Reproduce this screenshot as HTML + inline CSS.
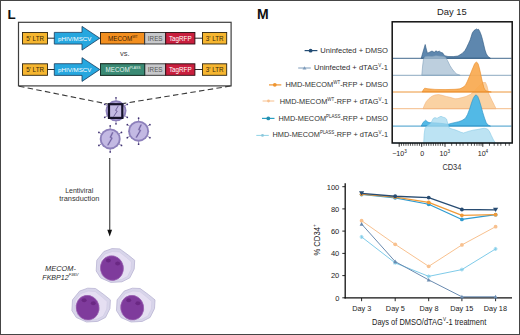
<!DOCTYPE html>
<html><head><meta charset="utf-8">
<style>
html,body{margin:0;padding:0;background:#fff;}
svg{display:block;font-family:"Liberation Sans",sans-serif;}
</style></head><body>
<svg width="520" height="335" viewBox="0 0 520 335">
<defs>
<filter id="bl" x="-50%" y="-50%" width="200%" height="200%"><feGaussianBlur stdDeviation="0.5"/></filter>
<g id="virus">
  <g stroke="#6a5a9a" stroke-width="0.7">
    <line x1="0" y1="-10" x2="0" y2="-12.6"/><line x1="0" y1="10" x2="0" y2="12.6"/>
    <line x1="8.7" y1="-5" x2="10.9" y2="-6.3"/><line x1="-8.7" y1="-5" x2="-10.9" y2="-6.3"/>
    <line x1="8.7" y1="5" x2="10.9" y2="6.3"/><line x1="-8.7" y1="5" x2="-10.9" y2="6.3"/>
  </g>
  <g fill="#3e3070">
    <circle cx="0" cy="-13" r="0.85"/><circle cx="0" cy="13" r="0.85"/>
    <circle cx="11.3" cy="-6.5" r="0.85"/><circle cx="-11.3" cy="-6.5" r="0.85"/>
    <circle cx="11.3" cy="6.5" r="0.85"/><circle cx="-11.3" cy="6.5" r="0.85"/>
  </g>
  <circle r="10.5" fill="#8d80bb"/>
  <circle r="8.6" fill="#c3b9e3"/>
  <path d="M2.6,-6.6 L0.2,-1.6 L1.8,-0.8 L-2.4,6.4" fill="none" stroke="#a89cd0" stroke-width="2" stroke-linejoin="round"/>
  <path d="M2.6,-6.6 L0.2,-1.6 L1.8,-0.8 L-2.4,6.4" fill="none" stroke="#5e4e8e" stroke-width="0.8" stroke-linejoin="round"/>
</g>
</defs>

<!-- outer border -->
<rect x="0.5" y="0.5" width="519" height="334" fill="#fff" stroke="#454545" stroke-width="1"/>

<!-- ============ PANEL L ============ -->
<text x="7.5" y="18.6" font-size="13.4" font-weight="bold" fill="#111">L</text>

<rect x="18.5" y="22.3" width="212.6" height="63.6" fill="#fff" stroke="#3e3e3e" stroke-width="1.2"/>

<g id="row1">
  <line x1="47" y1="38.2" x2="55" y2="38.2" stroke="#2b2b2b" stroke-width="1"/>
  <line x1="194" y1="38.2" x2="203" y2="38.2" stroke="#2b2b2b" stroke-width="1"/>
  <rect x="22.5" y="32.5" width="25" height="11.5" fill="#f6b630" stroke="#2d2410" stroke-width="0.9"/>
  <polygon points="54.3,32.4 82,32.4 82,26.4 99.8,38.2 82,50.1 82,44.1 54.3,44.1" fill="#26a7df" stroke="#173a5c" stroke-width="0.8"/>
  <rect x="100.5" y="32.5" width="44.2" height="11.5" fill="#f38f1f" stroke="#2b1d0c" stroke-width="0.9"/>
  <rect x="144.7" y="32.5" width="21" height="11.5" fill="#c7c8cb" stroke="#2b2b2b" stroke-width="0.9"/>
  <rect x="165.7" y="32.5" width="29.2" height="11.5" fill="#c91f3e" stroke="#2b0b10" stroke-width="0.9"/>
  <rect x="202.5" y="32.5" width="24.2" height="11.5" fill="#f6b630" stroke="#2d2410" stroke-width="0.9"/>
  <text x="35.1" y="40.6" font-size="6.3" fill="#3a2a0a" text-anchor="middle">5' LTR</text>
  <text x="74.8" y="40.6" font-size="6.2" fill="#fff" text-anchor="middle">pHIV/MSCV</text>
  <text x="214.7" y="40.6" font-size="6.3" fill="#3a2a0a" text-anchor="middle">3' LTR</text>
  <text x="155.2" y="40.6" font-size="6.3" fill="#555" text-anchor="middle">IRES</text>
  <text x="180.3" y="40.6" font-size="6.3" fill="#fff" text-anchor="middle">TagRFP</text>
</g>
<text x="108" y="40.6" font-size="6.3" fill="#3a1d05">MECOM<tspan font-size="3.6" dy="-2.6">WT</tspan></text>

<use href="#row1" y="31.3"/>
<rect x="100.5" y="63.8" width="44.2" height="11.5" fill="#3a8a74" stroke="#15302a" stroke-width="0.9"/>
<text x="105.5" y="71.9" font-size="6.3" fill="#e8f4ef">MECOM<tspan font-size="3.4" dy="-2.6">PLASS</tspan></text>

<text x="120" y="56.4" font-size="7.6" fill="#444">vs.</text>

<!-- dashed zoom lines -->
<line x1="19" y1="86.2" x2="108.5" y2="104.2" stroke="#3a3a3a" stroke-width="1.1" stroke-dasharray="5.5,3.3"/>
<line x1="230.5" y1="86" x2="122.8" y2="103.6" stroke="#3a3a3a" stroke-width="1.1" stroke-dasharray="5.5,3.3"/>

<!-- viruses -->
<use href="#virus" x="116" y="110.8"/>
<rect x="109" y="104.2" width="13.3" height="13.7" fill="#c4bae4" stroke="#16122a" stroke-width="2.2"/>
<path d="M118.3,105.8 L115.6,110.4 L117.2,111.2 L113.6,116.6" fill="none" stroke="#5a4a8a" stroke-width="0.8" stroke-linejoin="round"/>
<use href="#virus" x="110.2" y="138.9"/>
<use href="#virus" x="138.6" y="131.2"/>

<!-- transduction arrow -->
<line x1="109.7" y1="158" x2="109.7" y2="231" stroke="#555" stroke-width="1.3"/>
<polygon points="107.3,229.8 112.1,229.8 109.7,236.6" fill="#111"/>
<text x="79.2" y="192.8" font-size="7" fill="#333" text-anchor="middle">Lentiviral</text>
<text x="79.3" y="201.1" font-size="7.4" fill="#333" text-anchor="middle">transduction</text>

<!-- cells -->
<g id="cells">
  <path d="M103.9,251.5 L112,248.6 L119.8,248.9 L128.3,255.1 L134.7,260.3 L134.2,269 L129.8,277.8 L122,281.8 L110.8,282.4 L100.6,277.9 L96.2,271 L96.8,260.3 Z" fill="#d8d5ea" stroke="#b9b4d3" stroke-width="0.8" stroke-linejoin="round"/>
  <path d="M105,254 L112.5,251.5 L119.5,252 L126.5,257.5 L131.5,262 L131,269.5 L127.5,276.5 L121.5,279.5 L111,280 L102.5,276 L99,270 L99.5,261 Z" fill="#e5dff2" stroke="#cdc6e3" stroke-width="0.5" stroke-linejoin="round"/>
  <ellipse cx="111.9" cy="268.1" rx="11.5" ry="12.4" transform="rotate(-12 111.9 268.1)" fill="#7f3b9c" stroke="#9a62b2" stroke-width="0.7"/>
  <ellipse cx="108.4" cy="260.6" rx="2.5" ry="2" fill="#5e1f74" opacity="0.6" filter="url(#bl)"/>
  <ellipse cx="117.6" cy="263.6" rx="2.5" ry="2" fill="#5e1f74" opacity="0.6" filter="url(#bl)"/>
</g>
<use href="#cells" x="-24.3" y="39.6"/>
<use href="#cells" x="20.3" y="39.6"/>

<text x="45.1" y="270.6" font-size="7.4" font-style="italic" fill="#2a2a2a">MECOM-</text>
<text x="42.3" y="279.6" font-size="7.1" font-style="italic" fill="#2a2a2a">FKBP12<tspan font-size="4.1" dy="-3.6">F36V</tspan></text>

<!-- ============ PANEL M ============ -->
<text x="256.9" y="19.2" font-size="14" font-weight="bold" fill="#111">M</text>
<text x="437" y="15.4" font-size="9.4" fill="#222">Day 15</text>

<!-- PANELM -->
<!-- histogram -->
<g id="hist">
<path d="M421.2,58.3 L423,52 L425.2,44.5 L426.5,50 L427.5,53.2 L430,52 L432,51 L434.2,52.3 L436,50.8 L437.5,51.8 L439.4,51.2 L441,52.5 L442.5,52.8 L444.6,55.7 L448,56.5 L453.3,56.6 L458,56 L462.5,53.2 L465,50.5 L466.5,47.8 L468.5,43.5 L470.2,39.8 L472.3,33 L474,30.5 L475.5,29.6 L476.5,28.9 L477.5,29.6 L478.5,29.3 L479.8,31.5 L481.2,35 L482.5,39.5 L483.8,45 L485,50 L486.3,53.8 L488,56.6 L490.5,58.3 Z" fill="#5e87ae" fill-opacity="1" stroke="#2e5880" stroke-width="0.6" stroke-linejoin="round"/>
<line x1="392.5" y1="58.3" x2="511.5" y2="58.3" stroke="#2e5880" stroke-width="0.9"/>
<path d="M421.8,75.3 L422.6,66 L423.5,59.2 L425,56.8 L428,56.3 L432,56.5 L436,55.8 L440,56.2 L443,56.5 L445.5,57.2 L447.5,60.5 L449.8,65.3 L452,68.8 L454.5,72 L456.7,74 L460.2,75.3 Z" fill="#a7bfd3" fill-opacity="0.75" stroke="#7f9fba" stroke-width="0.6" stroke-linejoin="round"/>
<line x1="392.5" y1="75.3" x2="511.5" y2="75.3" stroke="#7f9fba" stroke-width="0.9"/>
<path d="M423,108.7 L424.5,105 L426.3,101.5 L429,98.5 L432,96.2 L435,95 L438.6,94.6 L442,95.3 L446.3,96.5 L450,97.3 L455,98.8 L458,98.6 L461.9,97.6 L466,96.5 L470.6,94.3 L474,91.5 L477,88 L480,85 L483,82.5 L485.5,82.5 L487,86 L488.8,93.8 L492,100.5 L494.5,105.5 L496,108.7 Z" fill="#fad2a3" fill-opacity="1" stroke="#f3b47a" stroke-width="0.6" stroke-linejoin="round"/>
<line x1="392.5" y1="108.7" x2="511.5" y2="108.7" stroke="#f3b47a" stroke-width="0.9"/>
<path d="M422.1,92 L423.5,89.5 L424.7,88.2 L428,88.8 L435,89.4 L445,89.6 L455,89.3 L460,88.8 L463,87.3 L465.4,85.3 L467.5,81 L469.7,75.8 L472,70 L474.5,64 L476.3,61.9 L478,63.5 L479.2,67.5 L480.5,73 L481.5,78 L482.7,83 L484,88 L485.5,90.5 L488,91.5 L491.3,92 Z" fill="#f8a94f" fill-opacity="0.92" stroke="#ea8a25" stroke-width="0.6" stroke-linejoin="round"/>
<line x1="392.5" y1="92.0" x2="511.5" y2="92.0" stroke="#ea8a25" stroke-width="0.9"/>
<path d="M421.2,126.1 L423,122.5 L425.6,120.2 L427.5,121.8 L429,122.6 L433,122.8 L438,123 L443,123.6 L448,124.3 L452,123.2 L458.5,121.7 L462,120.5 L465.4,118.3 L467.5,114.5 L469.7,108.8 L471.5,103 L473.2,98.4 L475,95.5 L476.3,94.9 L477.8,96.5 L479.2,100.1 L481,106 L482.7,112.2 L484.5,118 L486.2,122.6 L488,125 L490.5,126.1 Z" fill="#52b9e6" fill-opacity="1" stroke="#2a91c4" stroke-width="0.6" stroke-linejoin="round"/>
<line x1="392.5" y1="126.1" x2="511.5" y2="126.1" stroke="#2a91c4" stroke-width="0.9"/>
<path d="M423.7,143 L424.2,134 L425,128.5 L426.5,126.5 L428.5,125 L430.5,123.5 L432,121 L433.2,118.5 L435,117.6 L437,118.4 L439,117.2 L441,116.3 L443,117.2 L445,117.8 L446.5,119 L447.6,123 L449,127.8 L452,129 L455,129.8 L458,131 L461,132.3 L463.5,133 L466,132.2 L469,131.2 L473,130.2 L477,129.6 L481,128.8 L484.2,128.3 L487.5,129 L489.5,131.5 L491.3,135.5 L493.5,140 L495.5,143 Z" fill="#a6daef" fill-opacity="0.75" stroke="#86c9e6" stroke-width="0.6" stroke-linejoin="round"/>
<line x1="392.5" y1="143.0" x2="511.5" y2="143.0" stroke="#86c9e6" stroke-width="0.9"/>

</g>
<rect x="392.2" y="21.8" width="120" height="121.2" fill="none" stroke="#111" stroke-width="1.5"/>
<g stroke="#111"><line x1="399.20" y1="143" x2="399.20" y2="146.8" stroke-width="0.9"/>
<line x1="421.70" y1="143" x2="421.70" y2="146.8" stroke-width="0.9"/>
<line x1="445.00" y1="143" x2="445.00" y2="146.8" stroke-width="0.9"/>
<line x1="482.80" y1="143" x2="482.80" y2="146.8" stroke-width="0.9"/>
<line x1="401.45" y1="143" x2="401.45" y2="145.8" stroke-width="0.7"/>
<line x1="403.70" y1="143" x2="403.70" y2="145.8" stroke-width="0.7"/>
<line x1="405.95" y1="143" x2="405.95" y2="145.8" stroke-width="0.7"/>
<line x1="408.20" y1="143" x2="408.20" y2="145.8" stroke-width="0.7"/>
<line x1="410.45" y1="143" x2="410.45" y2="145.8" stroke-width="0.7"/>
<line x1="412.70" y1="143" x2="412.70" y2="145.8" stroke-width="0.7"/>
<line x1="414.95" y1="143" x2="414.95" y2="145.8" stroke-width="0.7"/>
<line x1="417.20" y1="143" x2="417.20" y2="145.8" stroke-width="0.7"/>
<line x1="419.45" y1="143" x2="419.45" y2="145.8" stroke-width="0.7"/>
<line x1="424.03" y1="143" x2="424.03" y2="145.8" stroke-width="0.7"/>
<line x1="426.36" y1="143" x2="426.36" y2="145.8" stroke-width="0.7"/>
<line x1="428.69" y1="143" x2="428.69" y2="145.8" stroke-width="0.7"/>
<line x1="431.02" y1="143" x2="431.02" y2="145.8" stroke-width="0.7"/>
<line x1="433.35" y1="143" x2="433.35" y2="145.8" stroke-width="0.7"/>
<line x1="435.68" y1="143" x2="435.68" y2="145.8" stroke-width="0.7"/>
<line x1="438.01" y1="143" x2="438.01" y2="145.8" stroke-width="0.7"/>
<line x1="440.34" y1="143" x2="440.34" y2="145.8" stroke-width="0.7"/>
<line x1="442.67" y1="143" x2="442.67" y2="145.8" stroke-width="0.7"/>
<line x1="451.66" y1="143" x2="451.66" y2="145.8" stroke-width="0.7"/>
<line x1="456.38" y1="143" x2="456.38" y2="145.8" stroke-width="0.7"/>
<line x1="460.04" y1="143" x2="460.04" y2="145.8" stroke-width="0.7"/>
<line x1="463.04" y1="143" x2="463.04" y2="145.8" stroke-width="0.7"/>
<line x1="467.76" y1="143" x2="467.76" y2="145.8" stroke-width="0.7"/>
<line x1="471.42" y1="143" x2="471.42" y2="145.8" stroke-width="0.7"/>
<line x1="474.41" y1="143" x2="474.41" y2="145.8" stroke-width="0.7"/>
<line x1="476.94" y1="143" x2="476.94" y2="145.8" stroke-width="0.7"/>
<line x1="479.14" y1="143" x2="479.14" y2="145.8" stroke-width="0.7"/>
<line x1="481.07" y1="143" x2="481.07" y2="145.8" stroke-width="0.7"/>
<line x1="489.46" y1="143" x2="489.46" y2="145.8" stroke-width="0.7"/>
<line x1="494.18" y1="143" x2="494.18" y2="145.8" stroke-width="0.7"/>
<line x1="497.84" y1="143" x2="497.84" y2="145.8" stroke-width="0.7"/>
<line x1="500.84" y1="143" x2="500.84" y2="145.8" stroke-width="0.7"/>
<line x1="505.56" y1="143" x2="505.56" y2="145.8" stroke-width="0.7"/>
<line x1="509.22" y1="143" x2="509.22" y2="145.8" stroke-width="0.7"/></g>

<g font-size="7.1" fill="#222">
<text x="392.2" y="156.4">−10<tspan font-size="4.6" dy="-3.2">3</tspan></text>
<text x="422.3" y="156.4" text-anchor="middle">0</text>
<text x="439.6" y="156.4">10<tspan font-size="4.6" dy="-3.2">3</tspan></text>
<text x="477.7" y="156.4">10<tspan font-size="4.6" dy="-3.2">4</tspan></text>
</g>
<text x="442.4" y="169.6" font-size="9" fill="#333" textLength="19" lengthAdjust="spacingAndGlyphs">CD34</text>

<!-- legend -->
<g font-size="7.6" fill="#303030" text-anchor="end">
<text x="388" y="53.2">Uninfected + DMSO</text>
<text x="388" y="70.1">Uninfected + dTAG<tspan font-size="4.6" dy="-2.8">V</tspan><tspan dy="2.8">-1</tspan></text>
<text x="0" y="87.2" transform="translate(388,0) scale(0.977,1)">HMD-MECOM<tspan font-size="4.6" dy="-2.8">WT</tspan><tspan dy="2.8">-RFP + DMSO</tspan></text>
<text x="0" y="103.6" transform="translate(388,0) scale(0.973,1)">HMD-MECOM<tspan font-size="4.6" dy="-2.8">WT</tspan><tspan dy="2.8">-RFP + dTAG</tspan><tspan font-size="4.6" dy="-2.8">V</tspan><tspan dy="2.8">-1</tspan></text>
<text x="0" y="120.8" transform="translate(388,0) scale(0.971,1)">HMD-MECOM<tspan font-size="4.6" dy="-2.8">PLASS</tspan><tspan dy="2.8">-RFP + DMSO</tspan></text>
<text x="0" y="137.3" transform="translate(388,0) scale(0.971,1)">HMD-MECOM<tspan font-size="4.6" dy="-2.8">PLASS</tspan><tspan dy="2.8">-RFP + dTAG</tspan><tspan font-size="4.6" dy="-2.8">V</tspan><tspan dy="2.8">-1</tspan></text>
</g>
<!-- legend markers -->
<line x1="304.6" y1="50.6" x2="317.4" y2="50.6" stroke="#234c74" stroke-width="1.2"/><circle cx="310.6" cy="50.7" r="1.9" fill="#234c74"/>
<line x1="298.2" y1="68" x2="310.8" y2="68" stroke="#7f9cbb" stroke-width="1"/><polygon points="302.5,69.4 306.5,69.4 304.5,66.2" fill="#7f9cbb"/>
<line x1="269" y1="84.9" x2="281.3" y2="84.9" stroke="#ef9530" stroke-width="1.2"/><circle cx="274.8" cy="84.8" r="1.9" fill="#ef9530"/>
<line x1="262.6" y1="101" x2="274.3" y2="101" stroke="#f7c08e" stroke-width="1"/><circle cx="268.5" cy="101" r="1.4" fill="#f7c08e"/>
<line x1="262" y1="118.4" x2="274.5" y2="118.4" stroke="#2aa0c2" stroke-width="1.2"/><circle cx="268.3" cy="118.4" r="1.9" fill="#238fb0"/>
<line x1="256.3" y1="135.4" x2="268.8" y2="135.4" stroke="#8fd3e6" stroke-width="1"/><circle cx="262.5" cy="135.4" r="1.4" fill="#8cc8dc"/>

<!-- line chart axes -->
<g stroke="#111" stroke-width="1.3" fill="none">
<line x1="345.2" y1="183.3" x2="345.2" y2="298.4"/>
<line x1="344.6" y1="297.8" x2="512" y2="297.8"/>
</g>
<g stroke="#111" stroke-width="0.9">
<line x1="342.3" y1="186.7" x2="345" y2="186.7"/>
<line x1="342.3" y1="208.9" x2="345" y2="208.9"/>
<line x1="342.3" y1="231.1" x2="345" y2="231.1"/>
<line x1="342.3" y1="253.4" x2="345" y2="253.4"/>
<line x1="342.3" y1="275.6" x2="345" y2="275.6"/>
<line x1="342.3" y1="297.8" x2="345" y2="297.8"/>
<line x1="361.6" y1="298" x2="361.6" y2="301.2"/>
<line x1="395.2" y1="298" x2="395.2" y2="301.2"/>
<line x1="428.7" y1="298" x2="428.7" y2="301.2"/>
<line x1="461.9" y1="298" x2="461.9" y2="301.2"/>
<line x1="495.6" y1="298" x2="495.6" y2="301.2"/>
</g>
<g font-size="7.5" fill="#222" text-anchor="end">
<text x="339.3" y="189.5">100</text>
<text x="339.3" y="211.7">80</text>
<text x="339.3" y="233.9">60</text>
<text x="339.3" y="256.2">40</text>
<text x="339.3" y="278.4">20</text>
<text x="339.3" y="300.6">0</text>
</g>
<g font-size="7.3" fill="#222" text-anchor="middle">
<text x="361.8" y="311">Day 3</text>
<text x="395.4" y="311">Day 5</text>
<text x="429" y="311">Day 8</text>
<text x="461.8" y="311">Day 15</text>
<text x="495.4" y="311">Day 18</text>
</g>
<text transform="translate(372,324.5) scale(0.88,1)" font-size="8.5" fill="#222">Days of DMSO/dTAG<tspan font-size="5.2" dy="-3.2">V</tspan><tspan dy="3.2">-1 treatment</tspan></text>
<text transform="translate(319.6,255.6) rotate(-90) scale(0.86,1)" font-size="8.9" fill="#222">% CD34<tspan font-size="5.4" dy="-3.4">+</tspan></text>
<g id="chart">
<polyline points="361.6,236.92 395.2,262.91 428.7,276.36 461.9,269.58 495.6,248.92" fill="none" stroke="#7fcbe9" stroke-width="1.0" stroke-linejoin="round"/>
<path d="M359.60,236.92h4M361.60,234.92v4M360.20,235.52l2.8,2.8M363.00,235.52l-2.8,2.8" stroke="#7fcbe9" stroke-width="0.8"/>
<path d="M393.20,262.91h4M395.20,260.91v4M393.80,261.51l2.8,2.8M396.60,261.51l-2.8,2.8" stroke="#7fcbe9" stroke-width="0.8"/>
<path d="M426.70,276.36h4M428.70,274.36v4M427.30,274.96l2.8,2.8M430.10,274.96l-2.8,2.8" stroke="#7fcbe9" stroke-width="0.8"/>
<path d="M459.90,269.58h4M461.90,267.58v4M460.50,268.18l2.8,2.8M463.30,268.18l-2.8,2.8" stroke="#7fcbe9" stroke-width="0.8"/>
<path d="M493.60,248.92h4M495.60,246.92v4M494.20,247.52l2.8,2.8M497.00,247.52l-2.8,2.8" stroke="#7fcbe9" stroke-width="0.8"/>
<polyline points="361.6,220.70 395.2,244.36 428.7,266.36 461.9,244.92 495.6,226.70" fill="none" stroke="#f8c18f" stroke-width="1.0" stroke-linejoin="round"/>
<circle cx="361.6" cy="220.70" r="1.9" fill="#f8c18f"/>
<circle cx="395.2" cy="244.36" r="1.9" fill="#f8c18f"/>
<circle cx="428.7" cy="266.36" r="1.9" fill="#f8c18f"/>
<circle cx="461.9" cy="244.92" r="1.9" fill="#f8c18f"/>
<circle cx="495.6" cy="226.70" r="1.9" fill="#f8c18f"/>
<polyline points="361.6,224.03 395.2,261.58 428.7,279.91 461.9,296.80 495.6,296.80" fill="none" stroke="#6a8bb0" stroke-width="1.0" stroke-linejoin="round"/>
<polygon points="359.60,225.63 363.60,225.63 361.60,222.03" fill="#6a8bb0"/>
<polygon points="393.20,263.18 397.20,263.18 395.20,259.58" fill="#6a8bb0"/>
<polygon points="426.70,281.51 430.70,281.51 428.70,277.91" fill="#6a8bb0"/>
<polygon points="459.90,298.40 463.90,298.40 461.90,294.80" fill="#6a8bb0"/>
<polygon points="493.60,298.40 497.60,298.40 495.60,294.80" fill="#6a8bb0"/>
<polyline points="361.6,194.48 395.2,197.81 428.7,204.25 461.9,219.47 495.6,214.70" fill="none" stroke="#2f9bd0" stroke-width="1.25" stroke-linejoin="round"/>
<circle cx="361.6" cy="194.48" r="1.9" fill="#2f9bd0"/>
<circle cx="395.2" cy="197.81" r="1.9" fill="#2f9bd0"/>
<circle cx="428.7" cy="204.25" r="1.9" fill="#2f9bd0"/>
<circle cx="461.9" cy="219.47" r="1.9" fill="#2f9bd0"/>
<circle cx="495.6" cy="214.70" r="1.9" fill="#2f9bd0"/>
<polyline points="361.6,194.14 395.2,197.14 428.7,202.37 461.9,215.36 495.6,214.70" fill="none" stroke="#f09a38" stroke-width="1.25" stroke-linejoin="round"/>
<circle cx="361.6" cy="194.14" r="1.9" fill="#f09a38"/>
<circle cx="395.2" cy="197.14" r="1.9" fill="#f09a38"/>
<circle cx="428.7" cy="202.37" r="1.9" fill="#f09a38"/>
<circle cx="461.9" cy="215.36" r="1.9" fill="#f09a38"/>
<circle cx="495.6" cy="214.70" r="1.9" fill="#f09a38"/>
<polyline points="361.6,193.37 395.2,196.25 428.7,197.59 461.9,209.48 495.6,209.81" fill="none" stroke="#284c72" stroke-width="1.3" stroke-linejoin="round"/>
<polygon points="359.00,191.37 364.20,191.37 361.60,195.57" fill="#284c72"/>
<circle cx="395.2" cy="196.25" r="1.9" fill="#284c72"/>
<circle cx="428.7" cy="197.59" r="1.9" fill="#284c72"/>
<circle cx="461.9" cy="209.48" r="1.9" fill="#284c72"/>
<polygon points="493.00,207.81 498.20,207.81 495.60,212.01" fill="#284c72"/>

</g>
<!-- /PANELM -->
</svg>
</body></html>
